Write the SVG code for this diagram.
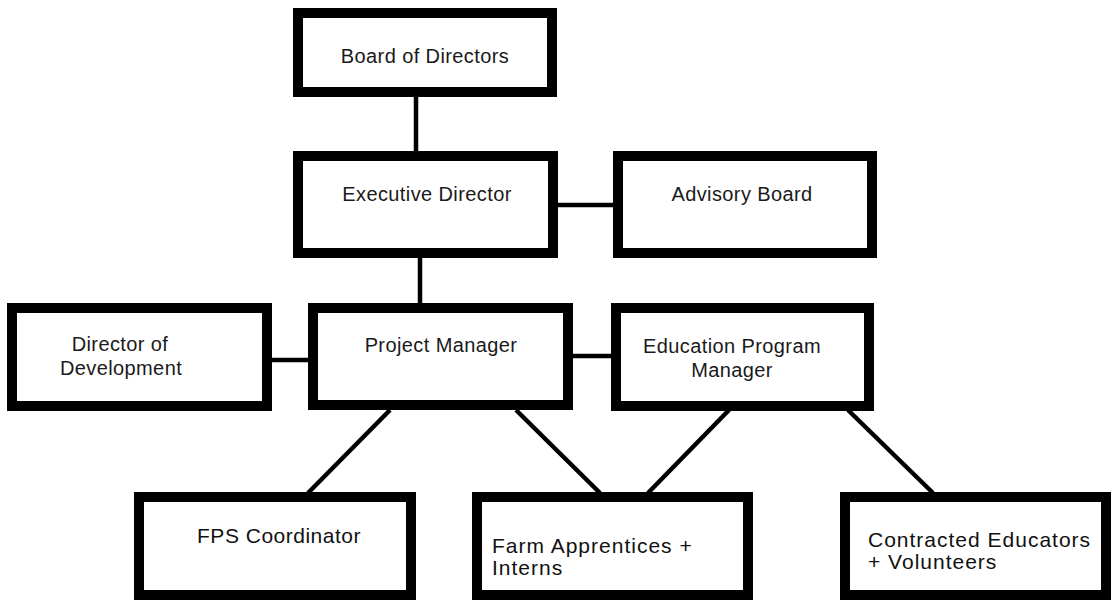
<svg xmlns="http://www.w3.org/2000/svg" width="1111" height="601" viewBox="0 0 1111 601">
<style>
.box{fill:#fff;stroke:#000;stroke-width:10}
.ln{stroke:#000;stroke-width:4.5;fill:none}
.t{font-family:"Liberation Sans",Arial,sans-serif;font-size:20px;fill:#1a1a1a;text-anchor:middle;letter-spacing:0.4px}
.b{font-family:"Liberation Sans",Arial,sans-serif;font-size:21px;fill:#111;letter-spacing:1px}
</style>
<rect width="1111" height="601" fill="#fff"/>
<g id="connectors">
<line class="ln" x1="416" y1="97" x2="416" y2="151"/>
<line class="ln" x1="558" y1="205" x2="613" y2="205"/>
<line class="ln" x1="420" y1="258" x2="420" y2="303"/>
<line class="ln" x1="272" y1="360" x2="308" y2="360"/>
<line class="ln" x1="573" y1="356" x2="611" y2="356"/>
<line class="ln" x1="390" y1="410" x2="308" y2="493"/>
<line class="ln" x1="516" y1="410" x2="600" y2="493"/>
<line class="ln" x1="729" y1="410" x2="648" y2="493"/>
<line class="ln" x1="848" y1="410" x2="933" y2="493"/>
</g>
<g id="board">
<rect class="box" x="298" y="13" width="254" height="79"/>
<text class="t" x="425" y="63">Board of Directors</text>
</g>
<g id="executive">
<rect class="box" x="298" y="156" width="255" height="97"/>
<text class="t" x="427" y="201">Executive Director</text>
</g>
<g id="advisory">
<rect class="box" x="618" y="156" width="254" height="97"/>
<text class="t" x="742" y="201">Advisory Board</text>
</g>
<g id="development">
<rect class="box" x="12" y="308" width="255" height="98"/>
<text class="t" x="120" y="351">Director of</text>
<text class="t" x="121" y="375">Development</text>
</g>
<g id="project">
<rect class="box" x="313" y="308" width="255" height="97"/>
<text class="t" x="441" y="352">Project Manager</text>
</g>
<g id="education">
<rect class="box" x="616" y="308" width="253" height="98"/>
<text class="t" x="732" y="353">Education Program</text>
<text class="t" x="732" y="377">Manager</text>
</g>
<g id="fps">
<rect class="box" x="139" y="497" width="272" height="98"/>
<text class="b" x="279" y="543" text-anchor="middle" style="letter-spacing:0.5px">FPS Coordinator</text>
</g>
<g id="farm">
<rect class="box" x="477" y="497" width="271" height="98"/>
<text class="b" x="492" y="553">Farm Apprentices +</text>
<text class="b" x="492" y="575">Interns</text>
</g>
<g id="contracted">
<rect class="box" x="845" y="497" width="261" height="98"/>
<text class="b" x="868" y="547">Contracted Educators</text>
<text class="b" x="868" y="569">+ Volunteers</text>
</g>
</svg>
